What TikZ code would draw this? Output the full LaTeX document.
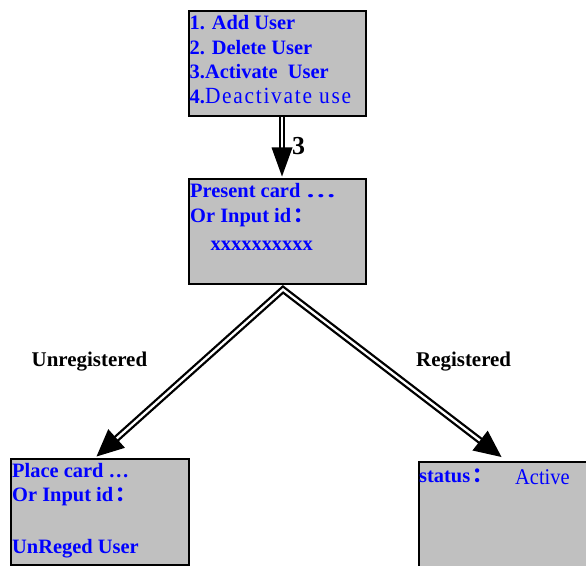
\documentclass[tikz,border=0pt]{standalone}
\usepackage{fontspec}
\setmainfont{Liberation Serif}
\newfontfamily\cjk{Noto Sans CJK SC}
\usetikzlibrary{calc}
\definecolor{boxgray}{RGB}{192,192,192}
\definecolor{textblue}{RGB}{0,0,255}
\newcommand{\fwcolon}{\hspace{2bp}{\cjk\bfseries ：}}
\tikzset{
  box/.style={draw=black, line width=2bp, fill=boxgray, inner sep=0pt, anchor=north west},
  btxt/.style={anchor=base west, inner sep=0pt, text=textblue, font=\fontsize{20.5}{24}\selectfont\bfseries},
  lbl/.style={anchor=base west, inner sep=0pt, text=black, font=\fontsize{21}{24}\selectfont\bfseries},
  dbl/.style={draw=black, double=white, double distance=2.3bp, line width=2.3bp, line join=miter},
}
\begin{document}
\begin{tikzpicture}[x=1bp,y=-1bp]
\useasboundingbox (0,0) rectangle (586,566);
% boxes
\node[box, minimum width=177bp, minimum height=105bp] (top) at (188,10) {};
\node[box, minimum width=177bp, minimum height=105bp] (mid) at (188,178) {};
\node[box, minimum width=178bp, minimum height=106bp] (bl) at (10,457.5) {};
\node[box, minimum width=200bp, minimum height=140bp] (br) at (418,460.5) {};
% top box text
\node[btxt] (t1) at (189.5,29.5) {1. Add User};
\node[btxt] (t2) at (189.5,54.5) {2. Delete User};
\node[btxt] (t3) at (189.5,79) {3.Activate\ \ User};
\node[btxt] (t4) at (189.5,104) {4.{\mdseries\fontsize{21.5}{24}\selectfont\addfontfeature{LetterSpace=8}\scalebox{1}[1.08]{Deactivate use}}};
% middle box text
\node[btxt] (m1) at (190,197.5) {Present card \scalebox{1.5}[1]{…}};
\node[btxt] (m2) at (190,222.5) {Or Input id\fwcolon};
\node[btxt] (m3) at (210.5,250.5) {xxxxxxxxxx};
% bottom-left box text
\node[btxt] (l1) at (12,477) {Place card …};
\node[btxt] (l2) at (12,501.5) {Or Input id\fwcolon};
\node[btxt] (l3) at (12,553.5) {UnReged User};
% bottom-right box text
\node[btxt] (r1) at (419,482.5) {status\fwcolon};
\node[btxt, font=\fontsize{20.5}{24}\selectfont\mdseries] (r2) at (515,484) {\scalebox{1}[1.1]{Active}};
% labels
\node[lbl] (n3) at (292,155) {\fontsize{26}{28}\selectfont 3};
\node[lbl] (lu) at (31.5,366) {Unregistered};
\node[lbl] (lr) at (416,366) {Registered};
% connector points
\coordinate (s0) at ($(top.south)+(4.5,0)$);
\coordinate (e0) at ($(mid.north)+(4.5,-1.5)$);
\coordinate (apex) at ($(mid.south)+(5.5,4.5)$);
\coordinate (e1) at ($(bl.north)+(-3.5,-1)$);
\coordinate (e2) at ($(br.north west)+(83.5,-3.5)$);
% head bases
\coordinate (h0) at ($(e0)!29bp!(s0)$);
\coordinate (h1) at ($(e1)!27bp!(apex)$);
\coordinate (h2) at ($(e2)!27bp!(apex)$);
\coordinate (q0) at ($(e0)!27bp!(s0)$);
\coordinate (q1) at ($(e1)!25bp!(apex)$);
\coordinate (q2) at ($(e2)!25bp!(apex)$);
% shafts
\draw[dbl] (s0) -- (q0);
\draw[dbl] (q1) -- (apex) -- (q2);
% heads
\fill[black] (e0) -- ($(h0)!10.5bp!90:(e0)$) -- ($(h0)!10.5bp!-90:(e0)$) -- cycle;
\fill[black] (e1) -- ($(h1)!12.5bp!90:(e1)$) -- ($(h1)!12.5bp!-90:(e1)$) -- cycle;
\fill[black] (e2) -- ($(h2)!12.5bp!90:(e2)$) -- ($(h2)!12.5bp!-90:(e2)$) -- cycle;
\end{tikzpicture}
\end{document}
